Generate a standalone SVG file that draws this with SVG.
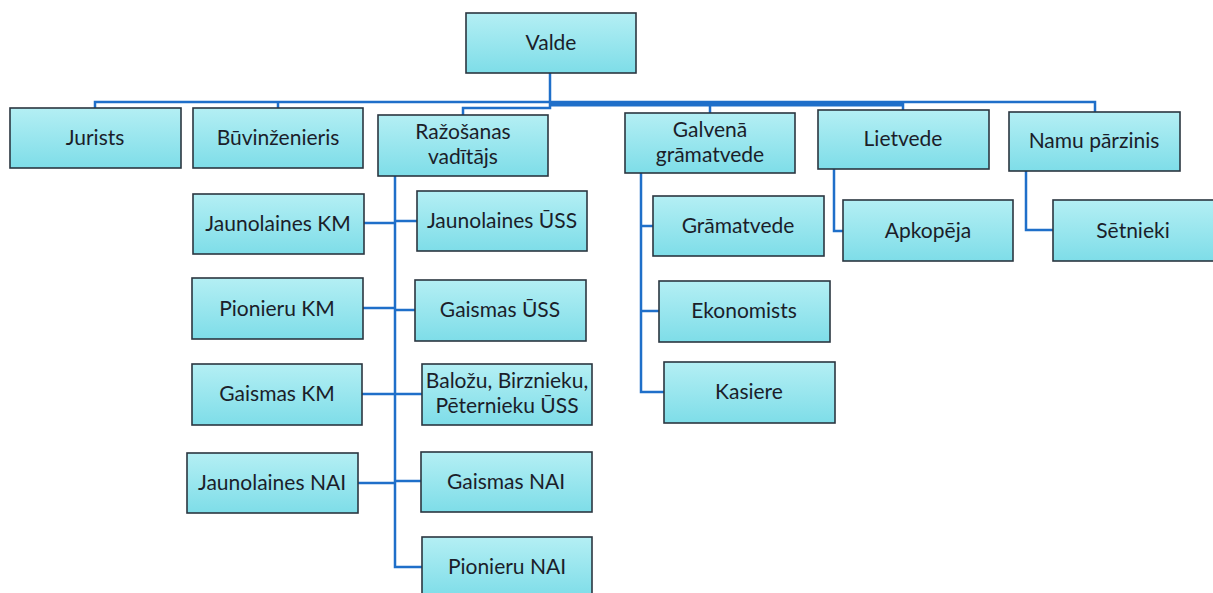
<svg xmlns="http://www.w3.org/2000/svg" width="1213" height="593" viewBox="0 0 1213 593">
<defs>
<linearGradient id="fill" x1="0" y1="0" x2="0" y2="1">
<stop offset="0" stop-color="#b4eff4"/>
<stop offset="1" stop-color="#7edde8"/>
</linearGradient>
<style>
.box{fill:url(#fill);stroke:#2b3640;stroke-width:1.6}
.t{font-family:Lato,"Open Sans","Liberation Sans",sans-serif;font-size:21px;fill:#1b1e2a;text-anchor:middle}
.c{fill:none;stroke:#1f6fc9;stroke-width:2.5}
</style>
</defs>
<rect width="1213" height="593" fill="#ffffff"/>
<g id="connectors">
<path class="c" d="M550 73V102"/>
<path class="c" d="M95 108V102H1095V112"/>
<path class="c" d="M278 102V108"/>
<path class="c" d="M710 102V113"/>
<path class="c" d="M903 102V110"/>
<path class="c" d="M550 104.5H903" style="stroke-width:4"/>
<path class="c" d="M550 102V108H463V115"/>
<path class="c" d="M395 176V567H422"/>
<path class="c" d="M364 223H395"/>
<path class="c" d="M395 221H417"/>
<path class="c" d="M363 308H395"/>
<path class="c" d="M395 310H415"/>
<path class="c" d="M362 394H422"/>
<path class="c" d="M358 483H395"/>
<path class="c" d="M395 481H421"/>
<path class="c" d="M641 173V392H664"/>
<path class="c" d="M641 226H653"/>
<path class="c" d="M641 311H659"/>
<path class="c" d="M834 169V231H843"/>
<path class="c" d="M1026 171V230H1053"/>
</g>
<g id="valde"><rect class="box" x="466" y="13" width="170" height="60"/><text class="t" x="551" y="50">Valde</text></g>
<g id="jurists"><rect class="box" x="10" y="108" width="171" height="60"/><text class="t" x="95" y="145">Jurists</text></g>
<g id="buvinzenieris"><rect class="box" x="193" y="108" width="170" height="60"/><text class="t" x="278" y="145">Būvinženieris</text></g>
<g id="razosanas"><rect class="box" x="378" y="115" width="170" height="61"/><text class="t" x="463" y="139">Ražošanas</text><text class="t" x="463" y="164">vadītājs</text></g>
<g id="galvena"><rect class="box" x="625" y="113" width="170" height="60"/><text class="t" x="710" y="137">Galvenā</text><text class="t" x="710" y="162">grāmatvede</text></g>
<g id="lietvede"><rect class="box" x="818" y="110" width="171" height="59"/><text class="t" x="903" y="146">Lietvede</text></g>
<g id="namu"><rect class="box" x="1009" y="112" width="171" height="59"/><text class="t" x="1094" y="148">Namu pārzinis</text></g>
<g id="jaunolaines-km"><rect class="box" x="193" y="194" width="171" height="60"/><text class="t" x="278" y="231">Jaunolaines KM</text></g>
<g id="pionieru-km"><rect class="box" x="192" y="278" width="171" height="61"/><text class="t" x="277" y="316">Pionieru KM</text></g>
<g id="gaismas-km"><rect class="box" x="192" y="364" width="170" height="61"/><text class="t" x="277" y="401">Gaismas KM</text></g>
<g id="jaunolaines-nai"><rect class="box" x="187" y="453" width="171" height="60"/><text class="t" x="272" y="490">Jaunolaines NAI</text></g>
<g id="jaunolaines-uss"><rect class="box" x="417" y="191" width="170" height="60"/><text class="t" x="502" y="228">Jaunolaines ŪSS</text></g>
<g id="gaismas-uss"><rect class="box" x="415" y="280" width="171" height="61"/><text class="t" x="500" y="317">Gaismas ŪSS</text></g>
<g id="balozu-uss"><rect class="box" x="422" y="364" width="170" height="61"/><text class="t" x="507" y="388">Baložu, Birznieku,</text><text class="t" x="507" y="413">Pēternieku ŪSS</text></g>
<g id="gaismas-nai"><rect class="box" x="421" y="452" width="171" height="60"/><text class="t" x="506" y="489">Gaismas NAI</text></g>
<g id="pionieru-nai"><rect class="box" x="422" y="537" width="170" height="60"/><text class="t" x="507" y="574">Pionieru NAI</text></g>
<g id="gramatvede"><rect class="box" x="653" y="196" width="171" height="60"/><text class="t" x="738" y="233">Grāmatvede</text></g>
<g id="ekonomists"><rect class="box" x="659" y="281" width="171" height="61"/><text class="t" x="744" y="318">Ekonomists</text></g>
<g id="kasiere"><rect class="box" x="664" y="362" width="171" height="61"/><text class="t" x="749" y="399">Kasiere</text></g>
<g id="apkopeja"><rect class="box" x="843" y="200" width="170" height="61"/><text class="t" x="928" y="238">Apkopēja</text></g>
<g id="setnieki"><rect class="box" x="1053" y="200" width="170" height="61"/><text class="t" x="1133" y="238">Sētnieki</text></g>
</svg>
